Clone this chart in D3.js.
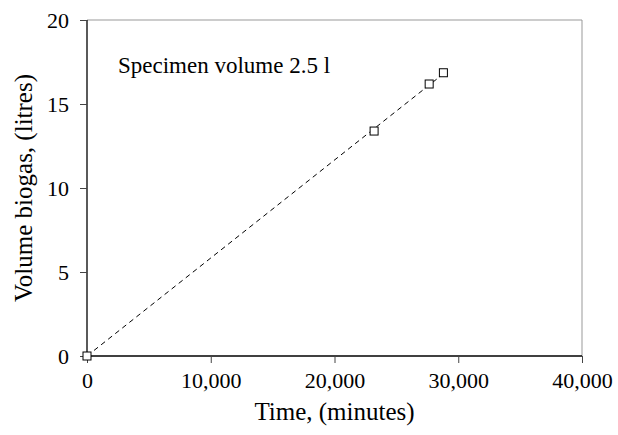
<!DOCTYPE html>
<html>
<head>
<meta charset="utf-8">
<script src="https://cdn.jsdelivr.net/npm/d3@7"></script>
<style>
  body { margin: 0; background: #fff; }
</style>
</head>
<body>
<div id="chart"></div>
<script>
// measured points (time in minutes, biogas volume in litres)
var timeMin = [0, 23200, 27650, 28800];
var volumeL = [0, 13.39, 16.19, 16.86];

// dashed trend line through the origin
var trendTime = [0, 28600];
var trendVol = [0, 16.68];

var xTicks = [0, 10000, 20000, 30000, 40000];
var yTicks = [0, 5, 10, 15, 20];

var serif = "'Liberation Serif', 'Times New Roman', Times, serif";

var width = 618, height = 435;
var margin = { top: 20, right: 36, bottom: 79, left: 87 };

var svg = d3.select("#chart")
  .append("svg")
  .attr("width", width)
  .attr("height", height)
  .style("font-family", serif);

var x = d3.scaleLinear()
  .domain([0, 40000])
  .range([margin.left, width - margin.right]);

var y = d3.scaleLinear()
  .domain([0, 20])
  .range([height - margin.bottom, margin.top]);

// frame: top and right in grey
svg.append("path")
  .attr("d", `M${x(0)},${y(20)}H${x(40000)}V${y(0)}`)
  .attr("fill", "none")
  .attr("stroke", "#999")
  .attr("stroke-width", 1);

var xAxis = svg.append("g")
  .attr("transform", `translate(0,${y(0)})`)
  .call(d3.axisBottom(x).tickValues(xTicks).tickSize(7).tickPadding(9)
    .tickFormat(d3.format(",")));

var yAxis = svg.append("g")
  .attr("transform", `translate(${x(0)},0)`)
  .call(d3.axisLeft(y).tickValues(yTicks).tickSize(7).tickPadding(11));

[xAxis, yAxis].forEach(function(g) {
  g.attr("font-family", null).attr("font-size", null);
  g.select(".domain").attr("stroke", "#000").attr("stroke-width", 1.3);
  g.selectAll(".tick line").attr("stroke", "#444");
  g.selectAll(".tick text")
    .style("font-family", serif)
    .style("font-size", "22px")
    .attr("fill", "#000");
});
xAxis.select(".domain").attr("d", `M${x(0)},0H${x(40000)}`);
yAxis.select(".domain").attr("d", `M0,${y(0)}V${y(20)}`);

// trend line
var line = d3.line()
  .x(function(d) { return x(d[0]); })
  .y(function(d) { return y(d[1]); });

svg.append("path")
  .datum(d3.zip(trendTime, trendVol))
  .attr("d", line)
  .attr("fill", "none")
  .attr("stroke", "#000")
  .attr("stroke-width", 1)
  .attr("stroke-dasharray", "5,4");

// square markers
var s = 8;
svg.selectAll("rect.pt")
  .data(d3.zip(timeMin, volumeL))
  .enter()
  .append("rect")
  .attr("class", "pt")
  .attr("x", function(d) { return x(d[0]) - s / 2; })
  .attr("y", function(d) { return y(d[1]) - s / 2; })
  .attr("width", s)
  .attr("height", s)
  .attr("fill", "#fff")
  .attr("stroke", "#000")
  .attr("stroke-width", 1);

// annotation
svg.append("text")
  .attr("x", 118)
  .attr("y", 73)
  .style("font-family", serif)
  .style("font-size", "23px")
  .text("Specimen volume 2.5 l");

// axis titles
svg.append("text")
  .attr("x", (x(0) + x(40000)) / 2)
  .attr("y", 420)
  .attr("text-anchor", "middle")
  .style("font-family", serif)
  .style("font-size", "25px")
  .text("Time, (minutes)");

svg.append("text")
  .attr("transform", `translate(32,${(y(0) + y(20)) / 2}) rotate(-90)`)
  .attr("text-anchor", "middle")
  .style("font-family", serif)
  .style("font-size", "25px")
  .text("Volume biogas, (litres)");
</script>
</body>
</html>
